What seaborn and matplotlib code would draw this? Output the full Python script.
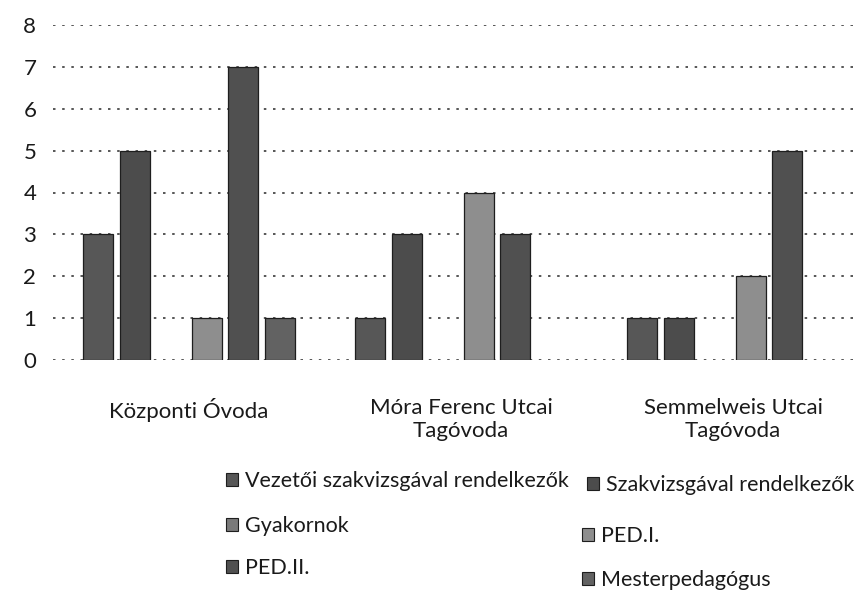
import numpy as np
import pandas as pd
import matplotlib
matplotlib.use("Agg")
import matplotlib.pyplot as plt
from matplotlib.patches import Patch
import seaborn as sns

# Óvodák és a pedagógusok megoszlása
ovodak = ['Központi Óvoda', 'Móra Ferenc Utcai\nTagóvoda', 'Semmelweis Utcai\nTagóvoda']
kategoriak = ['Vezetői szakvizsgával rendelkezők', 'Szakvizsgával rendelkezők',
              'Gyakornok', 'PED.I.', 'PED.II.', 'Mesterpedagógus']

vezetoi = [3, 1, 1]
szakvizsga = [5, 3, 1]
gyakornok = [0, 0, 0]
ped1 = [1, 4, 2]
ped2 = [7, 3, 5]
mester = [1, 0, 0]

series = [vezetoi, szakvizsga, gyakornok, ped1, ped2, mester]
df = pd.DataFrame([(o, k, v) for k, vals in zip(kategoriak, series)
                   for o, v in zip(ovodak, vals)],
                  columns=['ovoda', 'kategoria', 'fo'])

colors = ['#575757', '#4c4c4c', '#7a7a7a', '#8e8e8e', '#505050', '#626262']

sns.set_style("white")
plt.rcParams['font.family'] = ['Lato', 'DejaVu Sans']

fig = plt.figure(figsize=(8.59, 5.95), dpi=100)
ax = fig.add_axes([53 / 859, 1 - 360 / 595, 816 / 859, 335 / 595])

sns.barplot(data=df, x='ovoda', y='fo', hue='kategoria', palette=colors,
            width=0.8, gap=0.17, edgecolor='#1e1e1e', linewidth=0.9,
            legend=False, ax=ax)

# nulla magasságú oszlopok ne látszódjanak
for p in ax.patches:
    if p.get_height() == 0:
        p.set_visible(False)

ax.set_ylim(0, 8)
ax.set_xlim(-0.5, 2.5)
ax.set_yticks(range(0, 9))
ax.yaxis.grid(True, linestyle=(0, (1.5, 4)), color='#3a3a3a', linewidth=1.2)
ax.set_axisbelow(True)
for s in ax.spines.values():
    s.set_visible(False)
ax.set_xlabel('')
ax.set_ylabel('')
ax.tick_params(axis='y', length=0, pad=12, labelsize=16, labelcolor='#1a1a1a')
ax.tick_params(axis='x', length=0, pad=27, labelsize=16, labelcolor='#1a1a1a')

# jelmagyarázat, ahogy az eredetin sorakozik
helyek = [(226, 481), (587, 485), (226, 526), (582, 536), (226, 568), (582, 580)]
for k, c, (x, y) in zip(kategoriak, colors, helyek):
    h = Patch(facecolor=c, edgecolor='#1e1e1e', linewidth=0.8)
    fig.legend([h], [k], loc='center left', bbox_to_anchor=(x / 859, 1 - y / 595),
               frameon=False, borderpad=0, borderaxespad=0, handlelength=0.55,
               handleheight=0.55, handletextpad=0.35, fontsize=15.5,
               labelcolor='#1a1a1a')

fig.savefig('out.png', dpi=100)
